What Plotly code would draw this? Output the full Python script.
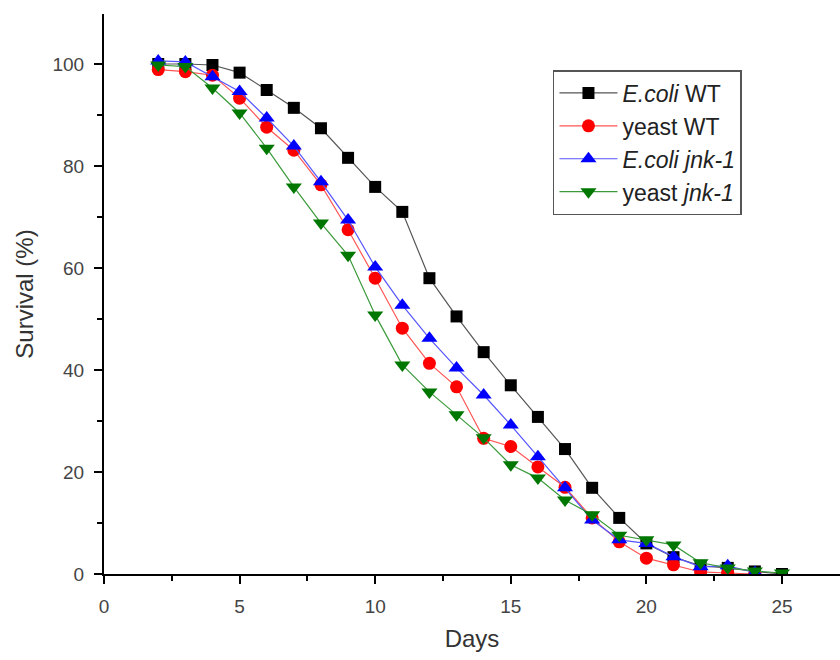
import plotly.graph_objects as go

days = list(range(2, 26))
ecoli_wt = [100, 100, 99.8, 98.3, 94.9, 91.4, 87.4, 81.6, 75.9, 71.0, 58.0, 50.5, 43.5, 37.0, 30.8, 24.5,
            16.9, 11.0, 6.0, 3.3, 1.6, 1.2, 0.5, 0.0]
yeast_wt = [98.9, 98.5, 97.8, 93.3, 87.6, 83.1, 76.3, 67.5, 58.0, 48.2, 41.3, 36.7, 26.6, 25.0, 21.0, 17.0,
            11.0, 6.3, 3.1, 1.8, 0.4, 0.2, 0.0]
ecoli_jnk = [100.6, 100.4, 97.5, 94.6, 89.4, 83.9, 76.9, 69.4, 60.2, 52.7, 46.2, 40.4, 35.1, 29.2, 23.0, 16.9,
             10.6, 6.7, 6.0, 3.4, 1.4, 1.6, 0.3]
yeast_jnk = [99.8, 99.5, 95.3, 90.4, 83.5, 75.9, 68.8, 62.5, 50.8, 41.0, 35.7, 31.2, 26.7, 21.4, 18.8, 14.5,
             11.6, 7.6, 6.7, 5.7, 2.2, 1.2, 0.6, 0.2]

names = ["<i>E.coli</i> WT", "yeast WT", "<i>E.coli</i> <i>jnk-1</i>", "yeast <i>jnk-1</i>"]
series = [ecoli_wt, yeast_wt, ecoli_jnk, yeast_jnk]
line_colors = ["#555555", "#ff5555", "#5555ff", "#3a9a3a"]
marker_colors = ["#000000", "#ff0000", "#0000ff", "#007700"]
symbols = ["square", "circle", "triangle-up", "triangle-down"]
sizes = [12, 13, 14, 14]

fig = go.Figure()
for i, (n, ys) in enumerate(zip(names, series)):
    fig.add_trace(go.Scatter(
        x=days[:len(ys)], y=ys, name=n, mode="lines+markers",
        line=dict(color=line_colors[i], width=1.2),
        marker=dict(symbol=symbols[i], size=sizes[i], color=marker_colors[i],
                    line=dict(width=0)),
    ))

fig.update_layout(
    width=840, height=660,
    margin=dict(l=104, r=0, t=14, b=86),
    paper_bgcolor="white", plot_bgcolor="white",
    font=dict(family="Liberation Sans, Arial, sans-serif", color="#333333"),
    showlegend=True,
    legend=dict(x=0.61, y=0.9, xanchor="left", yanchor="top",
                bordercolor="#555555", borderwidth=1.5, bgcolor="white",
                font=dict(size=23, color="#222222"),
                itemwidth=58),
    xaxis=dict(range=[0, 27.14], tickvals=[0, 5, 10, 15, 20, 25],
               ticks="outside", ticklen=8, tickwidth=1.5, tickcolor="black",
               showline=True, linecolor="black", linewidth=2,
               showgrid=False, zeroline=False, ticklabelstandoff=6,
               tickfont=dict(size=19, color="#444444"),
               minor=dict(dtick=2.5, tick0=0, ticks="outside", ticklen=5, tickcolor="black", tickwidth=1.5),
               title=dict(text="Days", font=dict(size=24, color="#333333"), standoff=14)),
    yaxis=dict(range=[0, 109.8], tickvals=[0, 20, 40, 60, 80, 100],
               ticks="outside", ticklen=8, tickwidth=1.5, tickcolor="black",
               showline=True, linecolor="black", linewidth=2,
               showgrid=False, zeroline=False, ticklabelstandoff=6,
               tickfont=dict(size=19, color="#444444"),
               minor=dict(dtick=10, tick0=0, ticks="outside", ticklen=5, tickcolor="black", tickwidth=1.5),
               title=dict(text="Survival (%)", font=dict(size=24, color="#333333"), standoff=12)),
)

fig.write_html("out.html")
